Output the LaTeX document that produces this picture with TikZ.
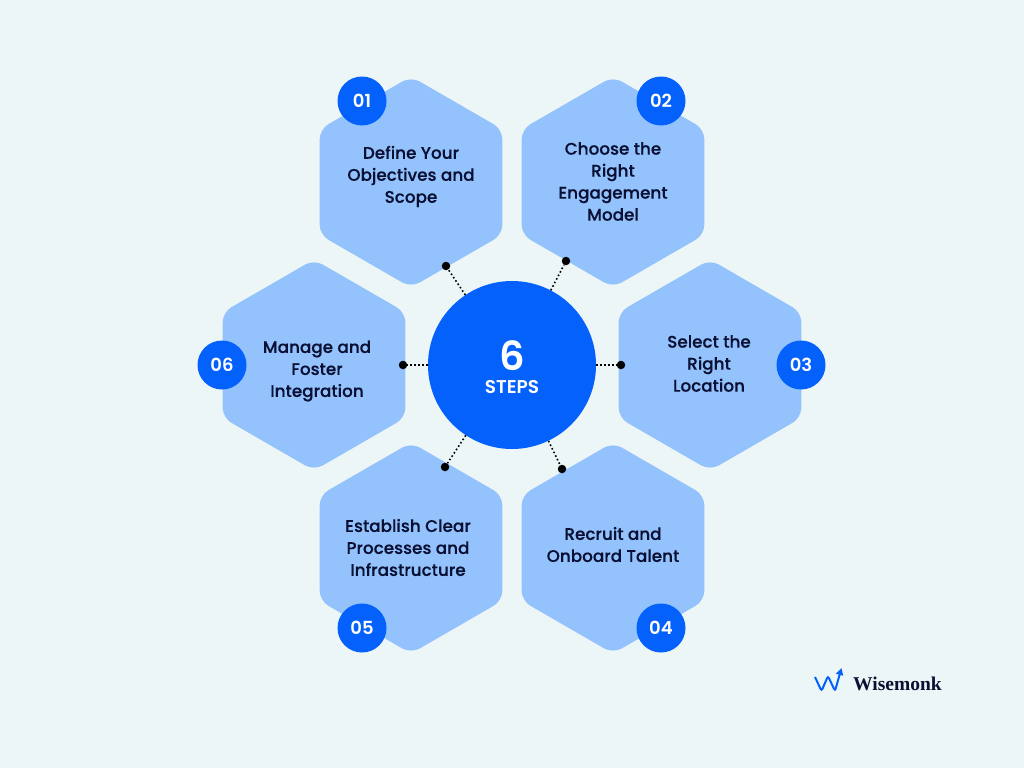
\documentclass[tikz,border=0pt]{standalone}
\usepackage{fontspec}
\setmainfont{Open Sans}
\newfontfamily\numfont{Poppins SemiBold}
\newfontfamily\labelfont{Poppins Medium}[FakeBold=0.25]
\newfontfamily\brandfont{Liberation Serif}
\usetikzlibrary{shapes.geometric,arrows.meta}
\definecolor{pagebg}{HTML}{EDF6F7}
\definecolor{hexblue}{HTML}{93C2FC}
\definecolor{hubblue}{HTML}{0561FB}
\definecolor{inkdark}{HTML}{0A1033}
\tikzset{
	hexcell/.style={regular polygon,regular polygon sides=6,regular polygon rotate=30,minimum size=211pt,inner sep=0pt,outer sep=0pt,fill=hexblue,rounded corners=10pt},
	hexlabel/.style={align=center,text=inkdark,font=\labelfont\fontsize{16.8}{22}\selectfont,inner sep=0pt},
	badge/.style={circle,minimum size=49pt,inner sep=0pt,fill=hubblue,text=white,font=\numfont\fontsize{18}{20}\selectfont},
	pin/.style={circle,minimum size=8.5pt,inner sep=0pt,fill=black},
	link/.style={dash pattern=on 1.6pt off 2.4pt,line width=1.6pt,black},
}
\begin{document}
\begin{tikzpicture}[x=1pt,y=-1pt]
\fill[pagebg] (0,0) rectangle (1024,768);
\foreach \n/\x/\y in {1/411/182,2/613/182,3/710/365,4/613/548,5/411/548,6/314/365}{
	\node[hexcell] (hex\n) at (\x,\y) {};}
\foreach \n/\x/\y/\t in {1/411/176.5/{Define Your\\Objectives and\\Scope},2/613/181.5/{Choose the\\Right\\Engagement\\Model},3/709/363.5/{Select the\\Right\\Location},4/613/544.5/{Recruit and\\Onboard Talent},5/408/547.5/{Establish Clear\\Processes and\\Infrastructure},6/317/371/{Manage and\\Foster\\Integration}}{
	\node[hexlabel] (label\n) at (\x,\y) {\t};}
\foreach \n/\x/\y in {1/362/101,2/661/101,3/801/365,4/661/628,5/362/628,6/222/365}{
	\node[badge] (badge\n) at (\x,\y) {0\n};}
\node[circle,minimum size=168pt,inner sep=0pt,fill=hubblue] (hub) at (512,365) {};
\node[text=white,font=\numfont\fontsize{40}{42}\selectfont,inner sep=0pt] (hubnum) at (512,356) {6};
\node[text=white,font=\numfont\fontsize{18.5}{20}\selectfont,inner sep=0pt] (hubtext) at (512,387.5) {STEPS};
\foreach \n/\x/\y in {1/446/266,2/566/261,3/621/365,4/562/469,5/445/467,6/403/365}{
	\node[pin] (pin\n) at (\x,\y) {};
	\draw[link] (hub) -- (pin\n);}
\coordinate (mark0) at (815,677);
\coordinate (mark1) at (821.5,691);
\coordinate (mark2) at (828,676);
\coordinate (mark3) at (835,691);
\coordinate (mark4) at (841.5,668);
\draw[hubblue,line width=2pt,rounded corners=2.5pt,-{Triangle[length=7pt,width=7pt]}] (mark0) -- (mark1) -- (mark2) -- (mark3) -- (mark4);
\node[anchor=west,text=inkdark,font=\brandfont\fontsize{19.5}{20}\selectfont\bfseries,inner sep=0pt] (brand) at (853,684) {Wisemonk};
\end{tikzpicture}
\end{document}
